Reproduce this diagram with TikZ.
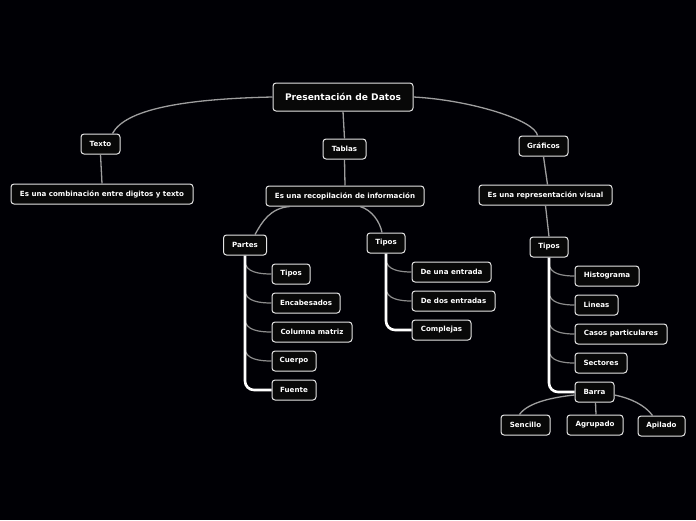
\documentclass[tikz,border=0pt]{standalone}
\usepackage{fontspec}
\setmainfont{DejaVu Sans}
\begin{document}
\begin{tikzpicture}[x=1pt,y=-1pt,
  box/.style={draw=white!90!black, line width=1pt, rounded corners=3pt, fill=black!97!white,
    text=white, font=\fontsize{7.1}{8}\selectfont\bfseries, inner xsep=3pt,
    minimum height=20pt, anchor=center},
  rootbox/.style={box, font=\fontsize{9.1}{10}\selectfont\bfseries, minimum height=28pt, inner xsep=5pt},
  conn/.style={draw=white!62!black, line width=1.3pt},
  trunk/.style={draw=white, line width=2.6pt, rounded corners=9pt},
  branch/.style={draw=white!55!black, line width=1.2pt}]
\fill[black!98!blue] (0,0) rectangle (696,520);
\useasboundingbox (0,0) rectangle (696,520);

% nodes
\node[rootbox, minimum width=140pt] (root) at (343,97) {Presentación de Datos};
\node[box, minimum width=39pt] (texto) at (100.5,144) {Texto};
\node[box, minimum width=182pt] (comb) at (102,194) {Es una combinación entre digitos y texto};
\node[box, minimum width=43pt] (tablas) at (344.5,149) {Tablas};
\node[box, minimum width=158pt] (recop) at (345,196) {Es una recopilación de información};
\node[box, minimum width=49pt] (graf) at (543.5,146) {Gráficos};
\node[box, minimum width=133pt] (repr) at (545.5,195) {Es una representación visual};

\node[box, minimum width=43pt] (partes) at (245,245) {Partes};
\node[box, minimum width=38pt] (tiposT) at (386,243) {Tipos};
\node[box, minimum width=38pt] (p1) at (291,274) {Tipos};
\node[box, minimum width=68pt] (p2) at (306,303) {Encabesados};
\node[box, minimum width=80pt] (p3) at (312,332) {Columna matriz};
\node[box, minimum width=44pt] (p4) at (294,361) {Cuerpo};
\node[box, minimum width=44pt] (p5) at (294,390) {Fuente};

\node[box, minimum width=79pt] (t1) at (451.5,272) {De una entrada};
\node[box, minimum width=83pt] (t2) at (453.5,301) {De dos entradas};
\node[box, minimum width=59pt] (t3) at (441.5,330) {Complejas};

\node[box, minimum width=38pt] (tiposG) at (549,247) {Tipos};
\node[box, minimum width=64pt] (g1) at (607,276) {Histograma};
\node[box, minimum width=43pt] (g2) at (596.5,305) {Lineas};
\node[box, minimum width=92pt] (g3) at (621,334) {Casos particulares};
\node[box, minimum width=52pt] (g4) at (601,363) {Sectores};
\node[box, minimum width=39pt] (g5) at (594.5,392) {Barra};

\node[box, minimum width=49pt] (b1) at (525.5,425) {Sencillo};
\node[box, minimum width=56pt] (b2) at (595,425) {Agrupado};
\node[box, minimum width=47pt] (b3) at (661.5,426) {Apilado};

% top-level connectors
\draw[conn] (root.west) .. controls (180,99) and (125,110) .. ([xshift=12pt]texto.north);
\draw[conn] (root.south) -- (tablas.north);
\draw[conn] (root.east) .. controls (470,100) and (535,120) .. ([xshift=-6pt]graf.north);
\draw[conn] (texto.south) -- (comb.north);
\draw[conn] (tablas.south) -- (recop.north);
\draw[conn] (graf.south) -- ([xshift=2pt]repr.north);
\draw[conn] ([xshift=-55pt]recop.south) .. controls (270,208) and (262,222) .. ([xshift=10pt]partes.north);
\draw[conn] ([xshift=15pt]recop.south) .. controls (372,210) and (380,222) .. ([xshift=-4pt]tiposT.north);
\draw[conn] (repr.south) -- (tiposG.north);

% branches
\foreach \c in {p1,p2,p3,p4}
  \draw[branch] ([yshift=13pt]partes.south |- \c.west) to[out=-90,in=180] (\c.west);
\foreach \c in {t1,t2}
  \draw[branch] ([yshift=13pt]tiposT.south |- \c.west) to[out=-90,in=180] (\c.west);
\foreach \c in {g1,g2,g3,g4}
  \draw[branch] ([yshift=13pt]tiposG.south |- \c.west) to[out=-90,in=180] (\c.west);

% trunks
\draw[trunk] (partes.south) |- (p5.west);
\draw[trunk] (tiposT.south) |- (t3.west);
\draw[trunk] (tiposG.south) |- (g5.west);

% barra children
\draw[conn] ([yshift=-3pt]g5.west) .. controls (555,397) and (528,402) .. ([xshift=-6pt]b1.north);
\draw[conn] ([xshift=1pt]g5.south) -- ([xshift=1pt]b2.north);
\draw[conn] ([yshift=-3pt]g5.east) .. controls (630,398) and (645,405) .. ([xshift=-9pt]b3.north);
\end{tikzpicture}
\end{document}
